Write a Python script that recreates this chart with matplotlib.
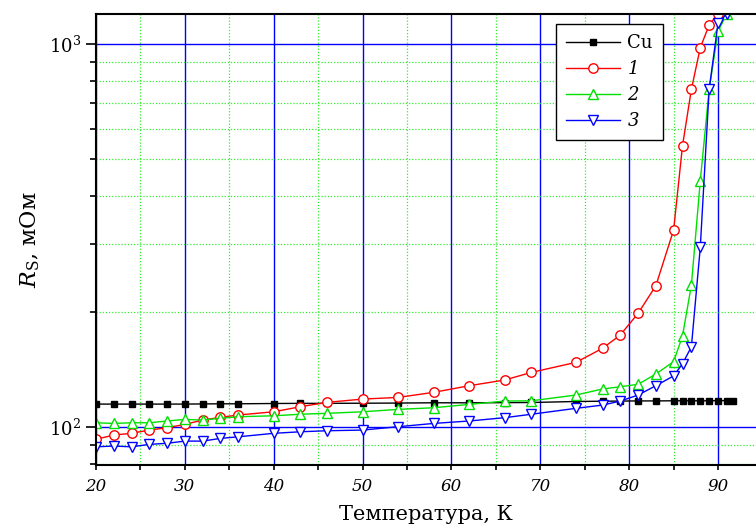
import matplotlib
matplotlib.use("Agg")
import matplotlib.pyplot as plt
from matplotlib.ticker import LogLocator, MultipleLocator, FuncFormatter, NullFormatter
import numpy as np

plt.rcParams['font.family'] = ['DejaVu Serif']
plt.rcParams['mathtext.fontset'] = 'dejavuserif'

# Temperatures (K) and surface resistance (mOhm)
T_cu = [20, 22, 24, 26, 28, 30, 32, 34, 36, 40, 43, 46, 50, 54, 58, 62, 66, 69, 74, 77,
        79, 81, 83, 85, 86, 87, 88, 89, 90, 91, 91.7]
R_cu = [114.8, 114.8, 114.8, 114.8, 114.8, 114.8, 114.9, 115.0, 115.0, 115.2, 115.3, 115.3,
        115.4, 115.5, 115.7, 115.7, 115.8, 115.9, 116.6, 116.8, 116.9, 117.0, 117.0, 117.1,
        117.1, 117.1, 117.1, 117.1, 117.2, 117.2, 117.2]

T_1 = [20, 22, 24, 26, 28, 30, 32, 34, 36, 40, 43, 46, 50, 54, 58, 62, 66, 69, 74, 77,
       79, 81, 83, 85, 86, 87, 88, 89, 90]
R_1 = [92.9, 95.3, 96.3, 98.2, 99.6, 101.6, 104.3, 106.0, 107.5, 109.6, 113.0, 116.0, 118.3,
       119.5, 123.2, 128.2, 132.7, 138.9, 147.5, 160.5, 173.9, 198.1, 233.8, 326.9, 542.6,
       761.7, 977.9, 1121, 1200]

T_2 = [20, 22, 24, 26, 28, 30, 32, 34, 36, 40, 43, 46, 50, 54, 58, 62, 66, 69, 74, 77,
       79, 81, 83, 85, 86, 87, 88, 89, 90, 91]
R_2 = [102.6, 102.2, 102.6, 102.6, 103.7, 104.7, 104.3, 105.4, 106.4, 107.0, 108.0, 108.6,
       109.6, 111.2, 112.3, 114.6, 116.9, 117.1, 121.2, 125.7, 127.4, 129.3, 137.5, 148.2,
       172.9, 234.9, 438.9, 761.7, 1080, 1200]

T_3 = [20, 22, 24, 26, 28, 30, 32, 34, 36, 40, 43, 46, 50, 54, 58, 62, 66, 69, 74, 77,
       79, 81, 83, 85, 86, 87, 88, 89, 90, 91]
R_3 = [88.8, 89.2, 88.8, 90.1, 90.7, 91.9, 91.9, 93.4, 94.3, 96.3, 97.2, 97.8, 98.2, 100.2,
       102.2, 103.7, 105.8, 108.0, 111.9, 114.1, 116.9, 121.2, 128.2, 136.0, 146.3, 162.0,
       294.6, 761.7, 1135, 1200]

labels = ["Cu", "1", "2", "3"]
x_ticks = [20, 30, 40, 50, 60, 70, 80, 90]

fig = plt.figure(figsize=(7.56, 5.32), dpi=100)
W, H = 756, 532
ax = fig.add_axes([96 / W, (H - 465) / H, 1 - 96 / W, (465 - 14) / H])

ax.set_yscale('log')
ax.set_xlim(20, 94.27)
ax.set_ylim(79.6, 1197.6)

# Grid: blue solid for major, green dotted for minor
ax.xaxis.set_major_locator(MultipleLocator(10))
ax.xaxis.set_minor_locator(MultipleLocator(5))
ax.yaxis.set_major_locator(LogLocator(base=10))
ax.yaxis.set_minor_locator(LogLocator(base=10, subs=np.arange(2, 10)))
ax.yaxis.set_minor_formatter(NullFormatter())
ax.grid(which='major', color='#0000ff', linestyle='-', linewidth=1.0)
ax.grid(which='minor', color='#33ee33', linestyle=(0, (1, 1.5)), linewidth=0.9)
ax.set_axisbelow(True)

common = dict(linewidth=1.0, markeredgewidth=1.0, clip_on=True)
ax.plot(T_cu, R_cu, color='black', marker='s', markersize=4.8, markerfacecolor='black',
        label=labels[0], **common)
ax.plot(T_1, R_1, color='#ff0000', marker='o', markersize=6.8, markerfacecolor='white',
        label=labels[1], **common)
ax.plot(T_2, R_2, color='#00e000', marker='^', markersize=7.6, markerfacecolor='white',
        label=labels[2], **common)
ax.plot(T_3, R_3, color='#0000ff', marker='v', markersize=7.6, markerfacecolor='white',
        label=labels[3], **common)

# Axes frame
for side in ('left', 'bottom', 'top'):
    ax.spines[side].set_linewidth(1.5)
    ax.spines[side].set_color('black')
ax.spines['right'].set_visible(False)

ax.tick_params(axis='x', which='both', direction='out', length=3.5, width=1.2,
               labelsize=12, pad=6, top=False)
ax.tick_params(axis='y', which='major', direction='out', length=7, width=1.2,
               labelsize=13, pad=4, right=False)
ax.tick_params(axis='y', which='minor', direction='out', length=4, width=1.2, right=False)


def log_fmt(v, pos):
    e = int(round(np.log10(v)))
    return r"$\mathregular{10^{%d}}$" % e


ax.yaxis.set_major_formatter(FuncFormatter(log_fmt))
ax.set_xticks(x_ticks)
ax.set_xticklabels([str(t) for t in x_ticks], fontstyle='italic')

ax.set_xlabel("Температура, К", fontsize=15)
ax.set_ylabel(r"$R_\mathrm{S}$, мОм", fontsize=16)
ax.xaxis.set_label_coords((426 - 96) / 660, -(505 - 465) / 451)
ax.yaxis.set_label_coords(-(96 - 42) / 660, 0.5)

leg = ax.legend(loc='upper left', bbox_to_anchor=((556 - 96) / 660, (465 - 24) / 451),
                fontsize=13, frameon=True, fancybox=False, edgecolor='black',
                framealpha=1, handlelength=3.0, handletextpad=0.4, borderpad=0.55,
                labelspacing=0.45, borderaxespad=0)
leg.get_frame().set_linewidth(1.0)
for t in leg.get_texts()[1:]:
    t.set_fontstyle('italic')

fig.savefig("out.png", dpi=100)
